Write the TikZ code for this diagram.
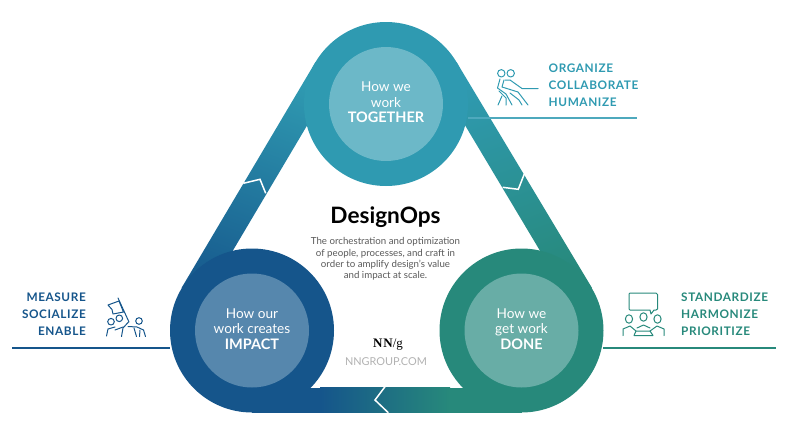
\documentclass[tikz,border=0pt]{standalone}
\usepackage{fontspec}
\setmainfont{Lato}
\newfontfamily\capsfont[LetterSpace=5]{Lato}
\newfontfamily\logofont{Liberation Serif}
\definecolor{teal1}{HTML}{2F9AB1}
\definecolor{teal2}{HTML}{6CB8C8}
\definecolor{blue1}{HTML}{15558B}
\definecolor{blue2}{HTML}{5687AD}
\definecolor{green1}{HTML}{27897B}
\definecolor{green2}{HTML}{68ADA6}
\tikzset{
	ring/.style={circle, minimum size=164pt, inner sep=0pt},
	hub/.style={circle, minimum size=114pt, inner sep=0pt},
	hubtext/.style={text=white, align=center, font=\fontsize{13.6}{15.6}\selectfont},
	verbs/.style={inner sep=0pt, align=left, font=\fontsize{11.8}{17}\capsfont\bfseries},
	chev/.style={draw=white, line width=1.5pt},
	icon/.style={line width=1pt, line cap=round, line join=round}
}
\newcommand{\hubbold}[1]{{\fontsize{14.5}{15.6}\selectfont\bfseries #1}}
\begin{document}
\begin{tikzpicture}[x=1pt,y=-1pt]
	\useasboundingbox (0,0) rectangle (785,424);
	% bands
	\shade[bottom color=blue1!90!teal1, top color=teal1, shading angle=-20] (181.5,288) -- (315.5,62) -- (337,75) -- (203,301) -- cycle;
	\shade[top color=teal1, bottom color=green1, shading angle=20] (456.5,62) -- (592,288) -- (570,301) -- (435,75) -- cycle;
	\fill[blue1] (252,387.7) rectangle (321,412.7);
	\fill[green1] (449,387.7) rectangle (521.5,412.7);
	\shade[left color=blue1, right color=green1] (320,387.7) rectangle (450,412.7);
	% rings
	\node (T0) at (386,104) [ring, fill=teal1] {};
	\node (L0) at (252,330.5) [ring, fill=blue1] {};
	\node (R0) at (521.5,330.5) [ring, fill=green1] {};
	\node (T1) at (386,104) [hub, fill=teal2] {};
	\node (L1) at (252,330.5) [hub, fill=blue2] {};
	\node (R1) at (521.5,330.5) [hub, fill=green2] {};
	\node (T2) at (386,102.3) [hubtext] {How we\\work\\\hubbold{TOGETHER}};
	\node (L2) at (252,329) [hubtext] {How our\\work creates\\\hubbold{IMPACT}};
	\node (R2) at (521.5,329) [hubtext] {How we\\get work\\\hubbold{DONE}};
	% chevrons
	\draw[chev] (243.3,183.3) -- (260,179.3) -- (265.7,193.3);
	\draw[chev] (524.3,174) -- (518.3,189.3) -- (502.7,187.3);
	\draw[chev] (385,386.7) -- (375,400) -- (388.3,412.7);
	% centre
	\node (title) at (385.5,217) [font=\fontsize{22.6}{24}\selectfont\bfseries] {DesignOps};
	\node (about) at (385.5,259) [align=center, text=black!65, font=\fontsize{9.7}{11.3}\selectfont] {The orchestration and optimization\\of people, processes, and craft in\\order to amplify design’s value\\and impact at scale.};
	\node (nng) at (388,344.5) [font=\fontsize{13}{14}\logofont] {\textbf{N\kern1pt N}/g};
	\node (url) at (386,361.5) [text=black!30, font=\fontsize{10.9}{12}\selectfont] {NNGROUP.COM};
	% rules
	\coordinate (tr) at (637,118);
	\coordinate (ll) at (12,348);
	\coordinate (rr) at (776,348);
	\draw[teal1!85!white, line width=1.2pt] (468,118) -- (tr);
	\draw[blue1, line width=1.2pt] (ll) -- (170,348);
	\draw[green1, line width=1.2pt] (603,348) -- (rr);
	% verbs
	\node (vt) at (548.5,85) [verbs, anchor=west, text=teal1] {ORGANIZE\\COLLABORATE\\HUMANIZE};
	\node (vl) at (86,314) [verbs, anchor=east, text=blue1, align=right] {MEASURE\\SOCIALIZE\\ENABLE};
	\node (vr) at (681,314) [verbs, anchor=west, text=green1] {STANDARDIZE\\HARMONIZE\\PRIORITIZE};
	% icon people pulling
	\begin{scope}[icon, draw=teal1]
		\draw (501.3,73.3) circle (3.7);
		\draw (510.7,73.3) circle (3.7);
		\draw (538,88.5) -- (522,88.5) -- (510,80) -- (505,80);
		\draw (500,79) -- (497.5,88) -- (506,94) -- (512,105);
		\draw (504,80) -- (502,87) -- (518,92) -- (528,105);
		\draw (499,91) -- (506,98) -- (506,105);
		\draw (502,96) -- (498,105);
		\draw (510,93) -- (519,100) -- (522,105);
	\end{scope}
	% icon flag
	\begin{scope}[icon, draw=blue1]
		\draw (108,305) -- (119,301) -- (123.5,312) -- (113,314) -- (112,309.5) -- cycle;
		\draw (118,298) -- (129,322);
		\draw (111,321.7) circle (3.3);
		\draw (119.3,318.3) circle (3.3);
		\draw (139,321) circle (3.3);
		\draw (106.5,336) -- (108,329) -- (115,327);
		\draw (121.5,336.5) -- (123,328) -- (128.5,322);
		\draw (115,330) -- (123,327);
		\draw (128,326.5) -- (137,327) -- (143.5,330) -- (145.5,336.5);
		\draw (134,328) -- (136.5,336.5);
		\draw (140,330) -- (139.5,336.5);
	\end{scope}
	% icon meeting
	\begin{scope}[icon, draw=green1]
		\draw (630,293) -- (656,293) -- (657.5,294.5) -- (657.5,309) -- (656,310) -- (654,310) -- (651,314) -- (650,310) -- (630,310) -- (629,309) -- (629,294) -- cycle;
		\draw (629,319) ellipse (3.6 and 4.2);
		\draw (643.5,317) ellipse (3.6 and 4.2);
		\draw (657.5,319) ellipse (3.6 and 4.2);
		\draw (623,335.5) -- (623,329) -- (630,326) -- (636,331) -- (650,331) -- (657,326) -- (664,329) -- (664,335.5);
		\draw (636,331) -- (634,335.5) -- (653,335.5) -- (650,331);
		\draw (637,328) -- (643.5,325) -- (650,328);
	\end{scope}
\end{tikzpicture}
\end{document}
